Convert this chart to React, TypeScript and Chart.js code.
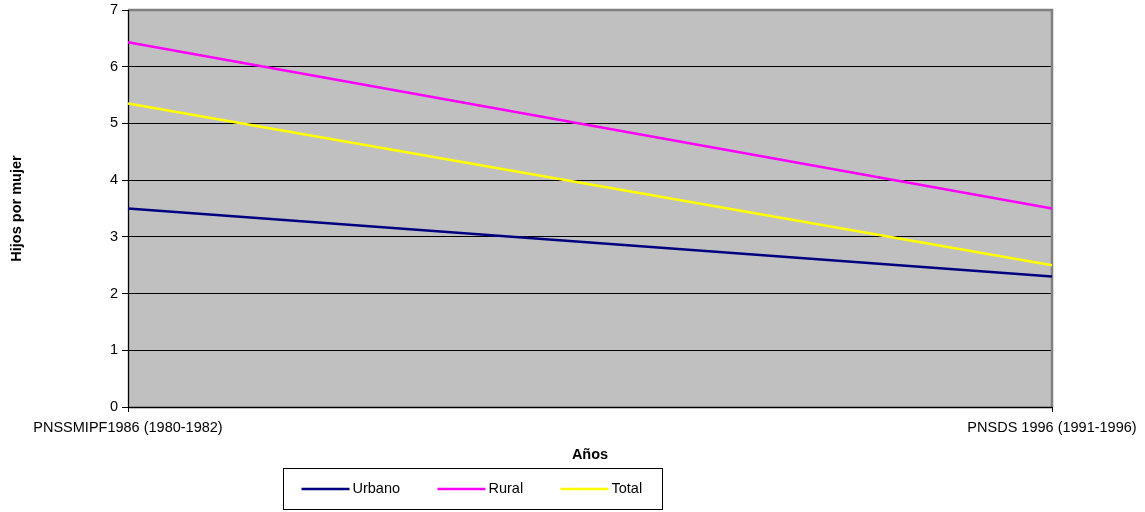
import { useEffect, useRef } from "react";
import { Chart, registerables } from "chart.js";
Chart.register(...registerables);

const categories = ["PNSSMIPF1986 (1980-1982)", "PNSDS 1996 (1991-1996)"];
const urbano = [3.5, 2.3];
const rural = [6.43, 3.5];
const total = [5.35, 2.5];
const yMin = 0;
const yMax = 7;
const yStep = 1;
const seriesNames = ["Urbano", "Rural", "Total"];
const seriesColors = ["#000080", "#FF00FF", "#FFFF00"];
const xTitle = "Años";
const yTitle = "Hijos por mujer";
const FONT = '"Liberation Sans", Arial, sans-serif';
const FS = 14.5;

const W = 1145;
const H = 512;

const decor = {
  id: "decor",
  beforeDraw(chart: any) {
    const { ctx, chartArea: a } = chart;
    ctx.save();
    ctx.fillStyle = "#C0C0C0";
    ctx.fillRect(a.left, a.top, a.right - a.left, a.bottom - a.top);
    ctx.restore();
  },
  beforeDatasetsDraw(chart: any) {
    const { ctx, chartArea: a } = chart;
    ctx.save();
    ctx.strokeStyle = "#808080";
    ctx.lineWidth = 2.5;
    ctx.beginPath();
    ctx.moveTo(a.left, a.top);
    ctx.lineTo(a.right, a.top);
    ctx.lineTo(a.right, a.bottom);
    ctx.stroke();
    ctx.strokeStyle = "#000000";
    ctx.lineWidth = 1.3;
    ctx.beginPath();
    ctx.moveTo(a.left + 0.5, a.top);
    ctx.lineTo(a.left + 0.5, a.bottom);
    ctx.moveTo(a.left, Math.round(a.bottom) + 0.5);
    ctx.lineTo(a.right, Math.round(a.bottom) + 0.5);
    ctx.stroke();
    ctx.restore();
  },
  afterDraw(chart: any) {
    const { ctx, chartArea: a } = chart;
    const xs = chart.scales.x;
    ctx.save();
    ctx.fillStyle = "#000";
    ctx.font = `${FS}px ${FONT}`;
    ctx.textAlign = "center";
    ctx.textBaseline = "middle";
    categories.forEach((c, i) => {
      ctx.fillText(c, xs.getPixelForValue(i), a.bottom + 21);
    });
    ctx.font = `bold ${FS}px ${FONT}`;
    ctx.fillText(xTitle, (a.left + a.right) / 2, 455);
    ctx.save();
    ctx.translate(17, (a.top + a.bottom) / 2);
    ctx.rotate(-Math.PI / 2);
    ctx.fillText(yTitle, 0, 0);
    ctx.restore();
    // legend
    const bx = 283.5, by = 468.5, bw = 379, bh = 41;
    ctx.strokeStyle = "#000";
    ctx.lineWidth = 1;
    ctx.strokeRect(bx, by, bw, bh);
    const offsets = [18, 154, 277];
    const ly = 489;
    ctx.font = `${FS}px ${FONT}`;
    ctx.textAlign = "left";
    seriesNames.forEach((n, i) => {
      const x0 = bx + offsets[i];
      ctx.strokeStyle = seriesColors[i];
      ctx.lineWidth = 2.5;
      ctx.beginPath();
      ctx.moveTo(x0, ly);
      ctx.lineTo(x0 + 48, ly);
      ctx.stroke();
      ctx.fillStyle = "#000";
      ctx.fillText(n, x0 + 51, ly);
    });
    ctx.restore();
  },
};

export default function App() {
  const ref = useRef<HTMLCanvasElement>(null);
  useEffect(() => {
    if (!ref.current) return;
    const chart = new Chart(ref.current, {
      type: "line",
      data: {
        labels: categories,
        datasets: [
          { label: seriesNames[0], data: urbano, borderColor: seriesColors[0] },
          { label: seriesNames[1], data: rural, borderColor: seriesColors[1] },
          { label: seriesNames[2], data: total, borderColor: seriesColors[2] },
        ].map((d) => ({ ...d, borderWidth: 2.5, pointRadius: 0, tension: 0, fill: false })),
      },
      options: {
        animation: false,
        responsive: false,
        devicePixelRatio: 1,
        layout: { padding: { left: 0, top: 10, right: 93, bottom: 105 } },
        plugins: { legend: { display: false }, tooltip: { enabled: false } },
        scales: {
          x: {
            type: "category",
            offset: false,
            ticks: { display: false },
            grid: { drawOnChartArea: false, drawTicks: true, tickLength: 5, color: "#000" },
            border: { display: false },
            afterFit: (s: any) => { s.height = 0; s.paddingLeft = 0; s.paddingRight = 0; },
          },
          y: {
            min: yMin,
            max: yMax,
            ticks: { stepSize: yStep, color: "#000", font: { family: FONT, size: FS }, padding: 4 },
            grid: { color: "#000", lineWidth: 1, tickLength: 6 },
            border: { display: false },
            afterFit: (s: any) => { s.width = 128; s.paddingTop = 0; s.paddingBottom = 0; },
          },
        },
      },
      plugins: [decor],
    });
    return () => chart.destroy();
  }, []);
  return (
    <div style={{ position: "fixed", left: 0, top: 0, width: W, height: H, background: "#fff" }}>
      <canvas ref={ref} width={W} height={H} style={{ width: W, height: H, display: "block" }} />
    </div>
  );
}
